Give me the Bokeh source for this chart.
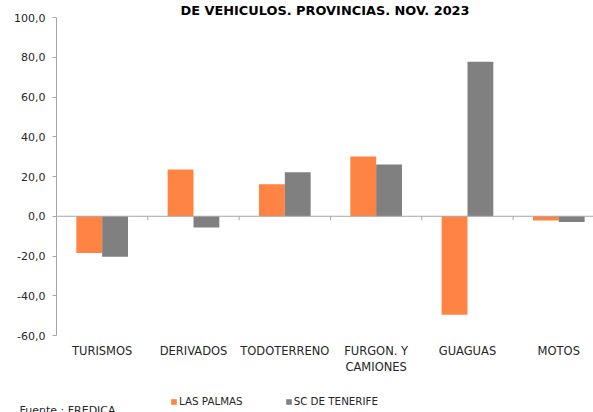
import numpy as np
from bokeh.plotting import figure
from bokeh.layouts import column
from bokeh.models import (Range1d, Span, Label, Legend, LegendItem, FixedTicker,
                          CustomJSTickFormatter, LinearAxis, ColumnDataSource)
from bokeh.embed import file_html
from bokeh.resources import INLINE

categories = ["TURISMOS", "DERIVADOS", "TODOTERRENO", "FURGON. Y\nCAMIONES", "GUAGUAS", "MOTOS"]
las_palmas = [-18.5, 23.5, 16.1, 30.1, -49.6, -2.2]
sc_tenerife = [-20.4, -5.6, 22.2, 26.1, 77.7, -2.9]
series_names = ["LAS PALMAS", "SC DE TENERIFE"]
y_ticks = [-60, -40, -20, 0, 20, 40, 60, 80, 100]
title_text = "DE VEHICULOS. PROVINCIAS. NOV. 2023"
source_text = "Fuente : FREDICA"

ORANGE = "#FF8343"
GRAY = "#808080"
AXIS = "#a6a6a6"
TXT = "#262626"
FONT = "DejaVu Sans"
W = 593

# --- main chart ---
n = len(categories)
idx = np.arange(n)
centers = idx + 0.5
bw = 0.283

src = ColumnDataSource(dict(
    x1=centers - bw / 2, x2=centers + bw / 2,
    lp=las_palmas, sc=sc_tenerife))

p = figure(width=W, height=386, output_backend="svg", toolbar_location=None,
           title=title_text,
           x_range=Range1d(0, n - 0.12), y_range=Range1d(y_ticks[0], y_ticks[-1]),
           min_border_left=56, min_border_right=0, min_border_top=17,
           min_border_bottom=51, x_axis_location=None, y_axis_location=None,
           frame_align=False)
p.title.align = "center"
p.title.offset = -51.5
p.title.standoff = 0
p.title.text_font = FONT
p.title.text_font_size = "12.9px"
p.title.text_font_style = "bold"
p.title.text_color = "black"
p.outline_line_color = None
p.grid.visible = False
p.background_fill_color = "white"
p.border_fill_color = "white"

p.vbar(x="x1", top="lp", bottom=0, width=bw, source=src, fill_color=ORANGE, line_color=None)
p.vbar(x="x2", top="sc", bottom=0, width=bw, source=src, fill_color=GRAY, line_color=None)

# zero line (category axis) and boundary ticks
p.add_layout(Span(location=0, dimension="width", line_color=AXIS, line_width=1.2))
bounds = idx[1:] * 1.0
p.segment(x0=bounds, x1=bounds, y0=np.zeros(len(bounds)), y1=np.full(len(bounds), -2.0),
          line_color=AXIS, line_width=1)

yax = LinearAxis(ticker=FixedTicker(ticks=y_ticks),
                 formatter=CustomJSTickFormatter(code="return tick.toFixed(1).replace('.', ',');"))
yax.axis_line_color = AXIS
yax.major_tick_line_color = AXIS
yax.major_tick_out = 4
yax.major_tick_in = 0
yax.minor_tick_line_color = None
yax.major_label_text_font = FONT
yax.major_label_text_font_size = "11px"
yax.major_label_text_color = TXT
yax.major_label_standoff = 7
p.add_layout(yax, "left")

xax = LinearAxis(ticker=FixedTicker(ticks=list(centers)),
                 major_label_overrides={float(c): lab for c, lab in zip(centers, categories)})
xax.axis_line_color = None
xax.major_tick_line_color = None
xax.minor_tick_line_color = None
xax.major_label_text_font = FONT
xax.major_label_text_font_size = "11.5px"
xax.major_label_text_color = TXT
xax.major_label_standoff = 2
p.add_layout(xax, "below")

# --- legend + source strip ---
pl = figure(width=W, height=26, output_backend="svg", toolbar_location=None,
            x_range=Range1d(0, W), y_range=Range1d(0, 26), min_border=0,
            min_border_left=0, min_border_right=0, min_border_top=0, min_border_bottom=0,
            x_axis_location=None, y_axis_location=None, frame_align=False)
pl.outline_line_color = None
pl.grid.visible = False
pl.border_fill_color = "white"
pl.background_fill_color = "white"
swatch = ColumnDataSource(dict(x=[-100.0], top=[0.0]))
l1 = pl.vbar(x="x", top="top", width=1, source=swatch, fill_color=ORANGE, line_color=None)
l2 = pl.vbar(x="x", top="top", width=1, source=swatch, fill_color=GRAY, line_color=None)
legend = Legend(items=[LegendItem(label=series_names[0], renderers=[l1]),
                       LegendItem(label=series_names[1], renderers=[l2])],
                orientation="horizontal", location=(170, 5),
                glyph_width=7, glyph_height=7, label_standoff=2, spacing=42,
                padding=0, margin=0, border_line_color=None, background_fill_alpha=0,
                label_text_font=FONT, label_text_font_size="10.3px",
                label_text_color=TXT, label_height=12)
pl.add_layout(legend, "center")
pl.add_layout(Label(x=19, y=9, x_units="screen", y_units="screen", text=source_text,
                    text_align="left", text_baseline="top", text_font=FONT,
                    text_font_size="11px", text_color=TXT))

layout = column(p, pl, spacing=0)
open("out.html", "w").write(file_html(layout, INLINE))
